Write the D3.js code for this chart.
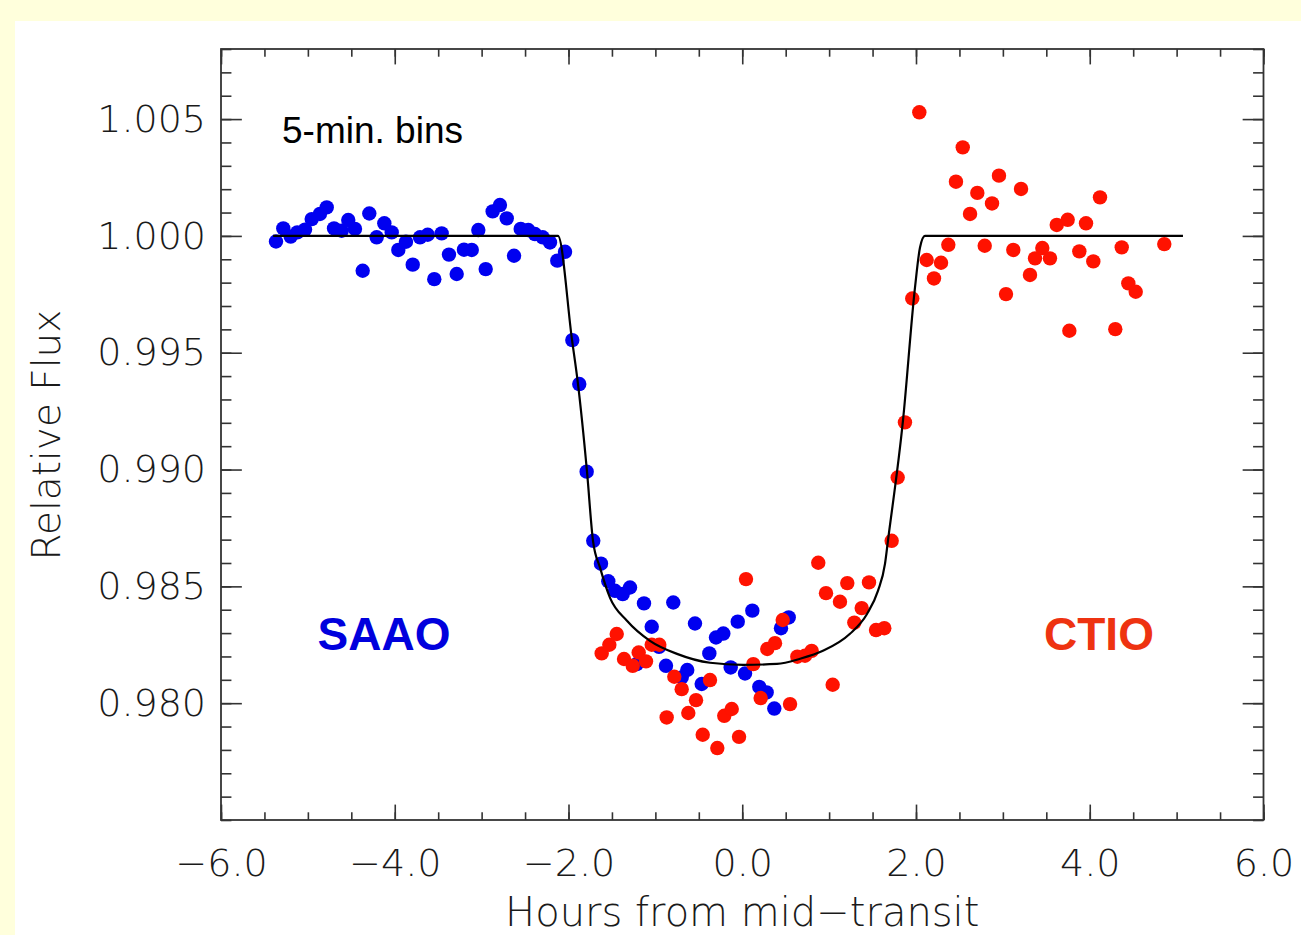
<!DOCTYPE html>
<html lang="en">
	<head>
		<meta charset="utf-8">
		<title>Transit light curve</title>
		<script type="text/javascript" src="https://cdn.jsdelivr.net/npm/d3@7"></script>
		<style type="text/css">
			body { margin: 0; background: #ffffdc; }
			svg { display: block; }
		</style>
	</head>
	<body>
		<script type="text/javascript">

			//Width and height
			var w = 1301;
			var h = 935;

			//SAAO 5-min bins (hours, relative flux)
			var saaoHours = [-5.367,-5.283,-5.198,-5.122,-5.033,-4.956,-4.861,-4.783,-4.699,-4.611,
				-4.535,-4.458,-4.369,-4.293,-4.208,-4.120,-4.035,-3.959,-3.871,-3.793,
				-3.709,-3.621,-3.545,-3.460,-3.376,-3.287,-3.203,-3.114,-3.038,-2.953,
				-2.873,-2.789,-2.711,-2.627,-2.550,-2.463,-2.386,-2.297,-2.213,-2.129,
				-2.040,-1.956,-1.876,-1.791,-1.715,-1.626,-1.542,-1.465,-1.376,-1.292,
				-1.215,-1.131,-1.042,-0.958,-0.878,-0.794,-0.697,-0.633,-0.544,-0.467,
				-0.379,-0.302,-0.218,-0.133,-0.052,0.032,0.116,0.196,0.281,0.369,
				0.446,0.535];
			var saaoFlux = [0.99976,1.00032,0.99997,1.00015,1.00027,1.00072,1.00094,1.00122,1.00032,1.00022,
				1.00068,1.00030,0.99851,1.00096,0.99994,1.00054,1.00015,0.99940,0.99975,0.99877,
				0.99994,1.00005,0.99815,1.00011,0.99920,0.99837,0.99941,0.99940,1.00025,0.99858,
				1.00105,1.00132,1.00075,0.99915,1.00030,1.00025,1.00008,0.99994,0.99972,0.99894,
				0.99932,0.99554,0.99366,0.98991,0.98695,0.98597,0.98522,0.98481,0.98467,0.98495,
				0.98167,0.98427,0.98327,0.98241,0.98160,0.98431,0.98110,0.98142,0.98341,0.98082,
				0.98213,0.98281,0.98298,0.98153,0.98349,0.98127,0.98396,0.98070,0.98046,0.97977,
				0.98321,0.98367];

			//CTIO 5-min bins
			var ctioHours = [-1.618,-1.530,-1.445,-1.361,-1.261,-1.192,-1.108,-1.042,-0.955,-0.870,
				-0.782,-0.697,-0.621,-0.532,-0.455,-0.371,-0.287,-0.207,-0.121,-0.037,
				0.043,0.127,0.212,0.288,0.377,0.466,0.550,0.634,0.722,0.799,
				0.875,0.964,1.041,1.125,1.209,1.290,1.375,1.459,1.540,1.635,
				1.720,1.789,1.873,1.957,2.038,2.123,2.207,2.288,2.372,2.460,
				2.538,2.622,2.706,2.791,2.875,2.955,3.036,3.120,3.209,3.312,
				3.370,3.454,3.542,3.620,3.746,3.765,3.880,3.957,4.041,4.118,
				4.294,4.368,4.444,4.529,4.858];
			var ctioFlux = [0.98213,0.98250,0.98296,0.98189,0.98160,0.98217,0.98179,0.98250,0.98250,0.97939,
				0.98113,0.98060,0.97958,0.98013,0.97865,0.98099,0.97808,0.97946,0.97975,0.97856,
				0.98531,0.98167,0.98022,0.98232,0.98257,0.98356,0.97996,0.98199,0.98203,0.98224,
				0.98601,0.98471,0.98079,0.98434,0.98514,0.98345,0.98407,0.98517,0.98313,0.98321,
				0.98695,0.98966,0.99202,0.99732,1.00529,0.99897,0.99818,0.99885,0.99962,1.00232,
				1.00379,1.00094,1.00184,0.99958,1.00139,1.00258,0.99751,0.99940,1.00201,0.99833,
				0.99904,0.99948,0.99904,1.00047,1.00069,0.99594,0.99934,1.00054,0.99891,1.00165,
				0.99601,0.99951,0.99797,0.99761,0.99965];

			//Model transit curve
			var modelHours = [-5.40,-2.121,-1.960,-1.891,-1.787,-1.718,-1.637,-1.522,-1.327,-1.062,
				-0.751,-0.371,0.009,0.400,0.665,0.929,1.240,1.436,1.562,1.643,
				1.677,1.850,1.988,2.046,2.103,5.073];
			var modelFlux = [1.0000,1.0000,0.99556,0.99367,0.98991,0.98695,0.98580,0.98451,0.98353,0.98267,
				0.98211,0.98173,0.98164,0.98168,0.98190,0.98224,0.98297,0.98382,0.98481,0.98596,
				0.98695,0.99209,0.99778,0.99950,1.0000,1.0000];

			//Ticks
			var xMajor = [-6, -4, -2, 0, 2, 4, 6];
			var yMajor = [0.980, 0.985, 0.990, 0.995, 1.000, 1.005];

			var plotL = 221, plotR = 1263.5, plotT = 49, plotB = 820;

			var xScale = d3.scaleLinear().domain([-6, 6]).range([plotL, plotR]);
			var yScale = d3.scaleLinear().domain([0.975, 1.008]).range([plotB, plotT]);

			var xMinor = d3.range(-6, 6.01, 0.5);
			var yMinor = d3.range(0.975, 1.0085, 0.001);

			var xLen = 0.02 * (plotB - plotT);
			var yLen = 0.02 * (plotR - plotL);

			//Create SVG element
			var svg = d3.select("body")
						.append("svg")
						.attr("width", w)
						.attr("height", h);

			svg.append("rect")
				.attr("x", 15).attr("y", 21)
				.attr("width", w).attr("height", h)
				.attr("fill", "white");

			var tickFont = "'DejaVu Sans', sans-serif";
			var axisColor = "#333";

			function styleAxis(g) {
				g.select(".domain").remove();
				g.selectAll(".tick line").attr("stroke", axisColor).attr("stroke-width", 1.6);
				g.selectAll("text").attr("fill", "#1a1a1a").attr("font-family", tickFont)
					.attr("font-weight", 200).attr("font-size", 38);
			}

			//minor ticks
			svg.append("g").attr("transform", "translate(0," + plotB + ")")
				.call(d3.axisBottom(xScale).tickValues(xMinor).tickSize(-xLen / 2).tickFormat(""))
				.call(styleAxis);
			svg.append("g").attr("transform", "translate(0," + plotT + ")")
				.call(d3.axisTop(xScale).tickValues(xMinor).tickSize(-xLen / 2).tickFormat(""))
				.call(styleAxis);
			svg.append("g").attr("transform", "translate(" + plotL + ",0)")
				.call(d3.axisLeft(yScale).tickValues(yMinor).tickSize(-yLen / 2).tickFormat(""))
				.call(styleAxis);
			svg.append("g").attr("transform", "translate(" + plotR + ",0)")
				.call(d3.axisRight(yScale).tickValues(yMinor).tickSize(-yLen / 2).tickFormat(""))
				.call(styleAxis);

			//major ticks
			svg.append("g").attr("transform", "translate(0," + plotB + ")")
				.call(d3.axisBottom(xScale).tickValues(xMajor).tickSize(-xLen).tickPadding(29)
					.tickFormat(d3.format(".1f")))
				.call(styleAxis);
			svg.append("g").attr("transform", "translate(0," + plotT + ")")
				.call(d3.axisTop(xScale).tickValues(xMajor).tickSize(-xLen).tickFormat(""))
				.call(styleAxis);
			svg.append("g").attr("transform", "translate(" + plotL + ",0)")
				.call(d3.axisLeft(yScale).tickValues(yMajor).tickSize(-yLen).tickPadding(15)
					.tickFormat(d3.format(".3f")))
				.call(styleAxis);
			svg.append("g").attr("transform", "translate(" + plotR + ",0)")
				.call(d3.axisRight(yScale).tickValues(yMajor).tickSize(-yLen).tickFormat(""))
				.call(styleAxis);

			//frame
			svg.append("rect")
				.attr("x", plotL).attr("y", plotT)
				.attr("width", plotR - plotL).attr("height", plotB - plotT)
				.attr("fill", "none")
				.attr("stroke", axisColor)
				.attr("stroke-width", 1.8);

			//axis titles
			svg.append("text")
				.text("Hours from mid\u2212transit")
				.attr("x", (plotL + plotR) / 2).attr("y", 926)
				.attr("text-anchor", "middle")
				.attr("font-family", tickFont).attr("font-weight", 200)
				.attr("font-size", 40).attr("fill", "#1a1a1a");

			svg.append("text")
				.text("Relative Flux")
				.attr("transform", "translate(60,435) rotate(-90)")
				.attr("text-anchor", "middle")
				.attr("font-family", tickFont).attr("font-weight", 200)
				.attr("font-size", 39).attr("fill", "#1a1a1a");

			//data points
			svg.selectAll("circle.saao")
				.data(saaoHours)
				.enter()
				.append("circle")
				.attr("class", "saao")
				.attr("cx", function(d){ return xScale(d); })
				.attr("cy", function(d, i){ return yScale(saaoFlux[i]); })
				.attr("r", 7.2)
				.attr("fill", "#0000f0");

			svg.selectAll("circle.ctio")
				.data(ctioHours)
				.enter()
				.append("circle")
				.attr("class", "ctio")
				.attr("cx", function(d){ return xScale(d); })
				.attr("cy", function(d, i){ return yScale(ctioFlux[i]); })
				.attr("r", 7.2)
				.attr("fill", "#ff1200");

			//model
			var line = d3.line()
				.x(function(d){ return xScale(d); })
				.y(function(d, i){ return yScale(modelFlux[i]); })
				.curve(d3.curveMonotoneX);

			svg.append("path")
				.attr("d", line(modelHours))
				.attr("fill", "none")
				.attr("stroke", "black")
				.attr("stroke-width", 2.2);

			//labels
			svg.append("text")
				.text("5-min. bins")
				.attr("x", 282).attr("y", 143)
				.attr("font-family", "'Liberation Sans', Arial, sans-serif")
				.attr("font-size", 37).attr("fill", "black");

			svg.append("text")
				.text("SAAO")
				.attr("x", 384).attr("y", 650)
				.attr("text-anchor", "middle")
				.attr("font-family", "'Liberation Sans', Arial, sans-serif")
				.attr("font-weight", "bold")
				.attr("font-size", 46).attr("fill", "#0000dd");

			svg.append("text")
				.text("CTIO")
				.attr("x", 1099).attr("y", 650)
				.attr("text-anchor", "middle")
				.attr("font-family", "'Liberation Sans', Arial, sans-serif")
				.attr("font-weight", "bold")
				.attr("font-size", 46).attr("fill", "#ee3311");

		</script>
	</body>
</html>
